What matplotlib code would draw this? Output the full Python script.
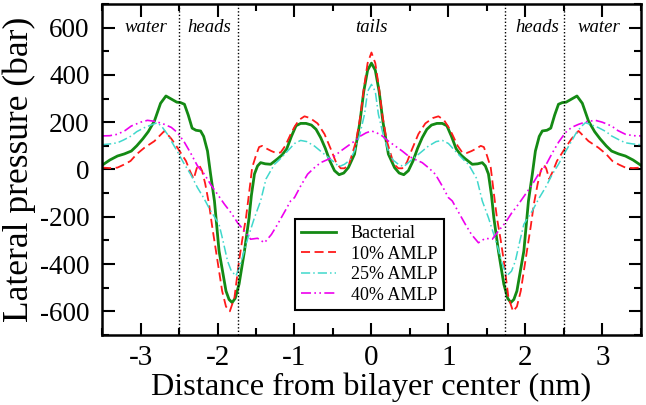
import numpy as np
import matplotlib
matplotlib.use("Agg")
import matplotlib.pyplot as plt
from matplotlib.ticker import MultipleLocator

plt.rcParams['font.family'] = ['Liberation Serif', 'DejaVu Serif']
plt.rcParams['axes.unicode_minus'] = False

# lateral pressure profiles (bar), read for z >= 0; profiles are symmetric about the bilayer center
x_bact = [0.00, 0.05, 0.10, 0.15, 0.22, 0.30, 0.36, 0.42, 0.48, 0.54, 0.60, 0.66, 0.72, 0.78,
          0.85, 0.92, 0.98, 1.04, 1.10, 1.16, 1.22, 1.31, 1.38, 1.44, 1.48, 1.52, 1.56, 1.59,
          1.65, 1.72, 1.77, 1.81, 1.85, 1.89, 1.94, 1.98, 2.04, 2.09, 2.13, 2.18, 2.22, 2.28,
          2.33, 2.38, 2.43, 2.48, 2.53, 2.60, 2.67, 2.74, 2.82, 2.90, 2.97, 3.05, 3.12, 3.21,
          3.30, 3.40, 3.50]
y_bact = [450, 420, 330, 200, 65, 8, -15, -22, -5, 36, 90, 135, 170, 188,
          195, 195, 185, 140, 88, 62, 45, 22, 24, 29, 15, -19, -110, -204,
          -345, -485, -545, -563, -550, -514, -420, -345, -133, -20, 78, 140, 163, 166,
          175, 230, 276, 283, 285, 298, 311, 280, 205, 160, 130, 100, 78, 66,
          57, 40, 18]

x_10 = [0.00, 0.05, 0.10, 0.14, 0.20, 0.29, 0.35, 0.40, 0.46, 0.52, 0.61, 0.70, 0.80, 0.87,
        0.94, 1.00, 1.05, 1.12, 1.18, 1.24, 1.30, 1.36, 1.42, 1.46, 1.50, 1.55, 1.59, 1.63,
        1.68, 1.72, 1.78, 1.84, 1.89, 1.94, 2.02, 2.07, 2.11, 2.16, 2.20, 2.24, 2.27, 2.31,
        2.36, 2.41, 2.52, 2.60, 2.69, 2.76, 2.82, 2.95, 3.05, 3.13, 3.22, 3.30, 3.40, 3.50]
y_10 = [495, 450, 340, 233, 120, 23, 5, 5, 30, 80, 150, 195, 218, 225,
        210, 180, 149, 100, 72, 70, 78, 88, 100, 95, 60, 8, -100, -204,
        -300, -387, -542, -600, -580, -514, -345, -240, -147, -60, -6, 20, 5, -40,
        -5, 36, 92, 130, 163, 140, 120, 92, 65, 36, 20, 8, 6, 8]

x_25 = [0.00, 0.05, 0.09, 0.15, 0.22, 0.28, 0.35, 0.42, 0.50, 0.61, 0.74, 0.84, 0.92, 1.00,
        1.05, 1.13, 1.20, 1.26, 1.31, 1.37, 1.44, 1.52, 1.63, 1.70, 1.76, 1.82, 1.87, 1.93,
        1.98, 2.04, 2.09, 2.18, 2.26, 2.35, 2.43, 2.52, 2.60, 2.65, 2.72, 2.78, 2.85, 2.95,
        3.05, 3.12, 3.22, 3.30, 3.40, 3.50]
y_25 = [360, 330, 234, 150, 78, 40, 22, 12, 35, 64, 99, 118, 123, 110,
        92, 64, 40, 22, -6, -40, -133, -204, -316, -400, -450, -430, -387, -300,
        -232, -200, -175, -120, -77, -20, 22, 75, 120, 149, 180, 198, 190, 177,
        160, 142, 125, 113, 108, 105]

x_40 = [0.00, 0.07, 0.14, 0.22, 0.31, 0.40, 0.48, 0.57, 0.66, 0.75, 0.83, 0.92, 1.00, 1.05,
        1.13, 1.22, 1.30, 1.39, 1.48, 1.57, 1.65, 1.74, 1.82, 1.91, 2.00, 2.09, 2.17, 2.26,
        2.35, 2.43, 2.52, 2.60, 2.69, 2.80, 2.91, 3.00, 3.12, 3.20, 3.30, 3.40, 3.50]
y_40 = [163, 155, 142, 120, 99, 78, 57, 42, 29, 5, -20, -70, -119, -133,
        -180, -232, -275, -310, -291, -295, -260, -225, -185, -147, -105, -63, -20, 15,
        70, 115, 156, 178, 191, 203, 208, 200, 184, 165, 149, 143, 142]

labels = ['Bacterial', '10% AMLP', '25% AMLP', '40% AMLP']
region_edges = [-2.5, -1.74, 1.74, 2.5]
region_names = ['water', 'heads', 'tails', 'heads', 'water']
region_x = [-2.93, -2.11, 0.0, 2.15, 2.95]


def both_sides(x, y):
    # mirror the half profile onto z < 0
    x = np.asarray(x, float)
    y = np.asarray(y, float)
    return np.concatenate([-x[::-1], x[1:]]), np.concatenate([y[::-1], y[1:]])


fig, ax = plt.subplots(figsize=(6.46, 4.05), dpi=100)
fig.subplots_adjust(left=0.158, right=0.992, top=0.99, bottom=0.173)

styles = [dict(color='#148a14', ls='-', lw=2.0),
          dict(color='#ff1a1a', ls=(0, (5, 2.5)), lw=1.3),
          dict(color='#40d8cc', ls=(0, (6, 2, 1, 2)), lw=1.1),
          dict(color='#ee00ee', ls=(0, (6, 2, 1, 2, 1, 2)), lw=1.2)]
series = [(x_bact, y_bact), (x_10, y_10), (x_25, y_25), (x_40, y_40)]
for (xs, ys), lab, st in zip(series, labels, styles):
    xx, yy = both_sides(xs, ys)
    ax.plot(xx, yy, label=lab, **st)

for xe in region_edges:
    ax.axvline(xe, color='black', ls=(0, (1, 1.5)), lw=1.0)
for xt, name in zip(region_x, region_names):
    ax.text(xt, 600, name, ha='center', va='center', style='italic', fontsize=13.5)

ax.set_xlim(-3.5, 3.5)
ax.set_ylim(-700, 700)
ax.xaxis.set_major_locator(MultipleLocator(1))
ax.xaxis.set_minor_locator(MultipleLocator(0.5))
ax.set_yticks([-600, -400, -200, 0, 200, 400, 600])
ax.yaxis.set_minor_locator(MultipleLocator(100))
ax.tick_params(which='both', direction='in', top=True, right=True, width=1.5)
ax.tick_params(which='major', length=9)
ax.tick_params(which='minor', length=5)
ax.tick_params(axis='x', pad=7, labelsize=21)
ax.tick_params(axis='y', pad=9, labelsize=19.5)
for s in ax.spines.values():
    s.set_linewidth(1.8)

ax.set_xlabel('Distance from bilayer center (nm)', fontsize=23.3, labelpad=1)
ax.set_ylabel('Lateral pressure (bar)', fontsize=25.5, labelpad=3)

leg = ax.legend(loc='lower left', bbox_to_anchor=(0.358, 0.075), borderaxespad=0,
                fontsize=13, fancybox=False, framealpha=1, edgecolor='black',
                handlelength=1.95, handletextpad=0.8, borderpad=0.35, labelspacing=0.2)
leg.get_frame().set_linewidth(1.5)

fig.savefig('out.png', dpi=100)
